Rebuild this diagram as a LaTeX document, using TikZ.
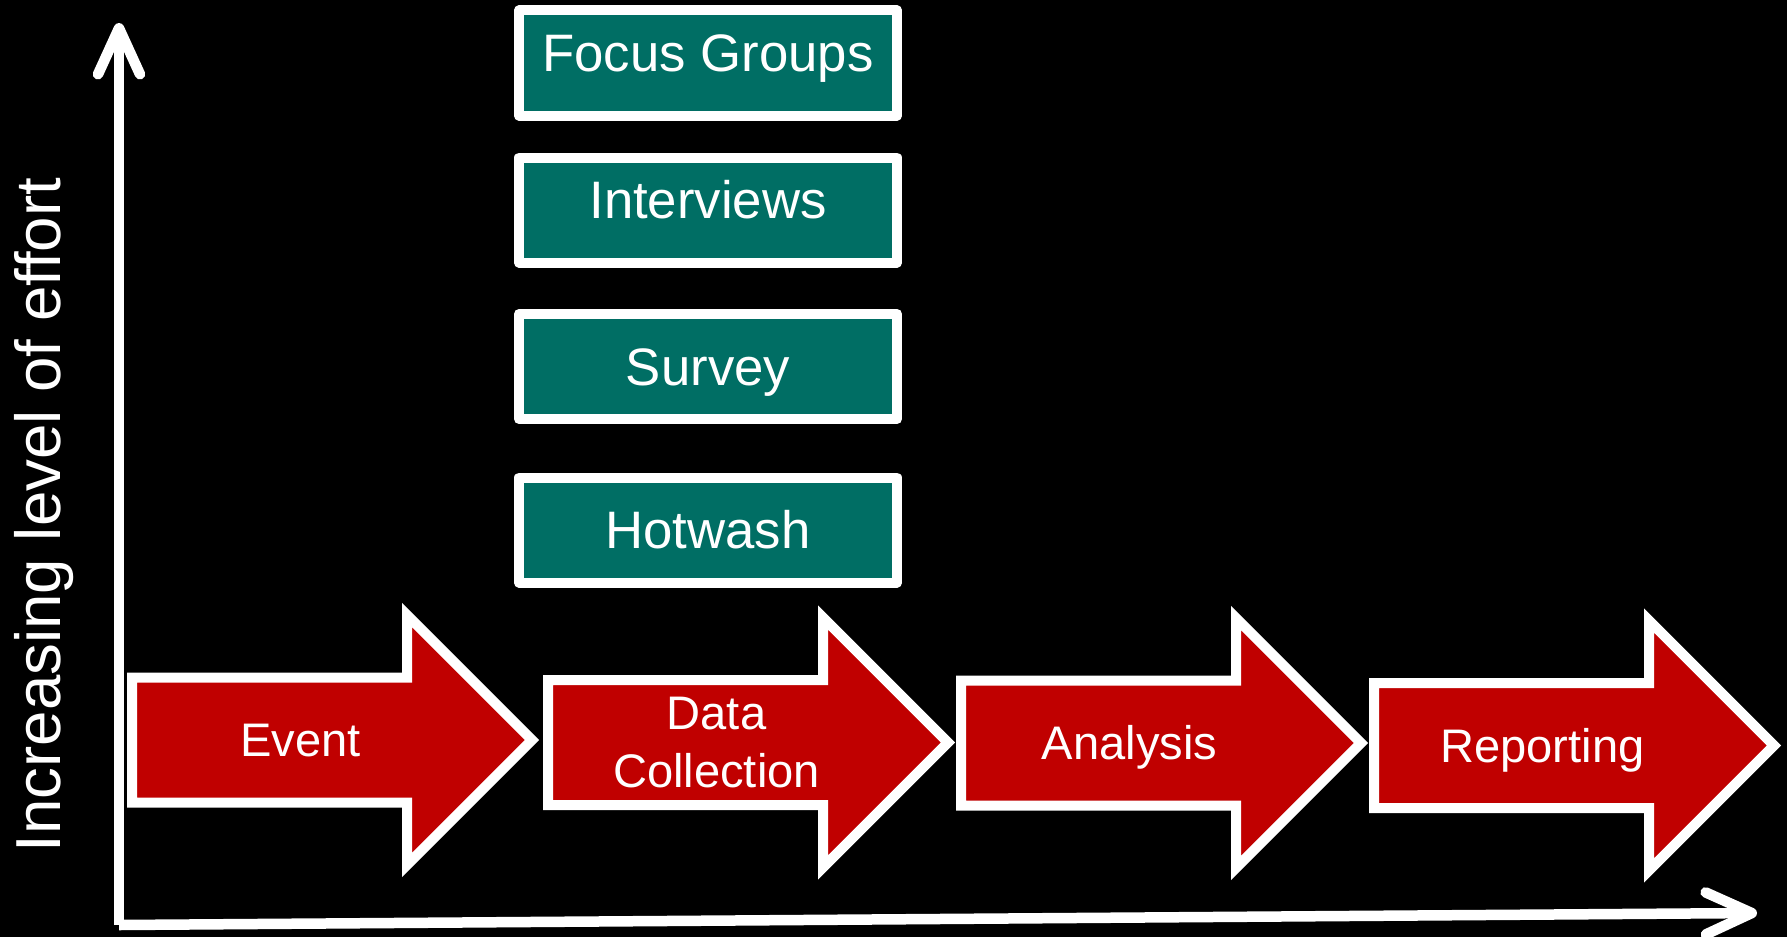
\documentclass[tikz,border=0pt]{standalone}
\usepackage{fontspec}
\setmainfont{Liberation Sans}
\usepackage{xcolor}
\usetikzlibrary{arrows.meta,positioning}

\definecolor{stagered}{RGB}{192,0,0}
\definecolor{methodgreen}{RGB}{0,110,100}

\begin{document}
\begin{tikzpicture}[
        methodbox/.style={rectangle, draw=white, fill=methodgreen, line width=0.1cm, line join=round, outer sep=0pt, inner sep=0pt, minimum width=3.78cm, minimum height=1.05cm, text=white, font=\fontsize{15}{18}\selectfont, text height=10.7pt},
        stagearrow/.style={draw=white, fill=stagered, line width=0.1cm},
        stagetext/.style={text=white, align=center, font=\fontsize{13.4}{16.3}\selectfont},
        effortaxis/.style={draw=white, line width=0.105cm, -{Straight Barb[length=4.6mm, width=4.2mm, round]}}
    ]

    % Black slide background
    \fill[black] (0,0) rectangle (17.87,9.37);
    \useasboundingbox (0,0) rectangle (17.87,9.37);

    % Axes
    \coordinate (origin) at (1.19,0.12);
    \coordinate (ytip) at (1.19,9.14);
    \coordinate (xtip) at (17.57,0.24);
    \draw[effortaxis] (origin) -- (ytip);
    \draw[effortaxis] (origin) -- (xtip);

    % Axis label
    \node[rotate=90, anchor=base, text=white, font=\fontsize{18.1}{22}\selectfont] (effort) at (0.605,4.22) {Increasing level of effort};

    % Process stages
    \draw[stagearrow] (1.32,2.595) -- ++(2.75,0) -- ++(0,0.625) -- ++(1.25,-1.25) -- ++(-1.25,-1.25) -- ++(0,0.625) -- ++(-2.75,0) -- cycle;
    \draw[stagearrow] (5.48,2.57) -- ++(2.75,0) -- ++(0,0.625) -- ++(1.25,-1.25) -- ++(-1.25,-1.25) -- ++(0,0.625) -- ++(-2.75,0) -- cycle;
    \draw[stagearrow] (9.61,2.565) -- ++(2.75,0) -- ++(0,0.625) -- ++(1.25,-1.25) -- ++(-1.25,-1.25) -- ++(0,0.625) -- ++(-2.75,0) -- cycle;
    \draw[stagearrow] (13.74,2.54) -- ++(2.75,0) -- ++(0,0.625) -- ++(1.25,-1.25) -- ++(-1.25,-1.25) -- ++(0,0.625) -- ++(-2.75,0) -- cycle;

    \node[stagetext, text height=9.6pt, text depth=0pt] (event) at (3.005,1.97) {Event};
    \node[stagetext] (collect) at (7.165,1.945) {Data\\Collection};
    \node[stagetext, text height=9.6pt, text depth=0pt] (analysis) at (11.295,1.94) {Analysis};
    \node[stagetext, text height=9.6pt, text depth=0pt] (report) at (15.425,1.915) {Reporting};

    % Data collection methods, stacked above the second stage
    \node[methodbox, text depth=0pt] (hotwash) at (7.08,4.07) {Hotwash};
    \node[methodbox, text depth=0pt, above=0.585cm of hotwash] (survey) {Survey};
    \node[methodbox, text depth=6pt, above=0.515cm of survey] (interviews) {Interviews};
    \node[methodbox, text depth=6pt, above=0.42cm of interviews] (focus) {Focus Groups};

\end{tikzpicture}
\end{document}
